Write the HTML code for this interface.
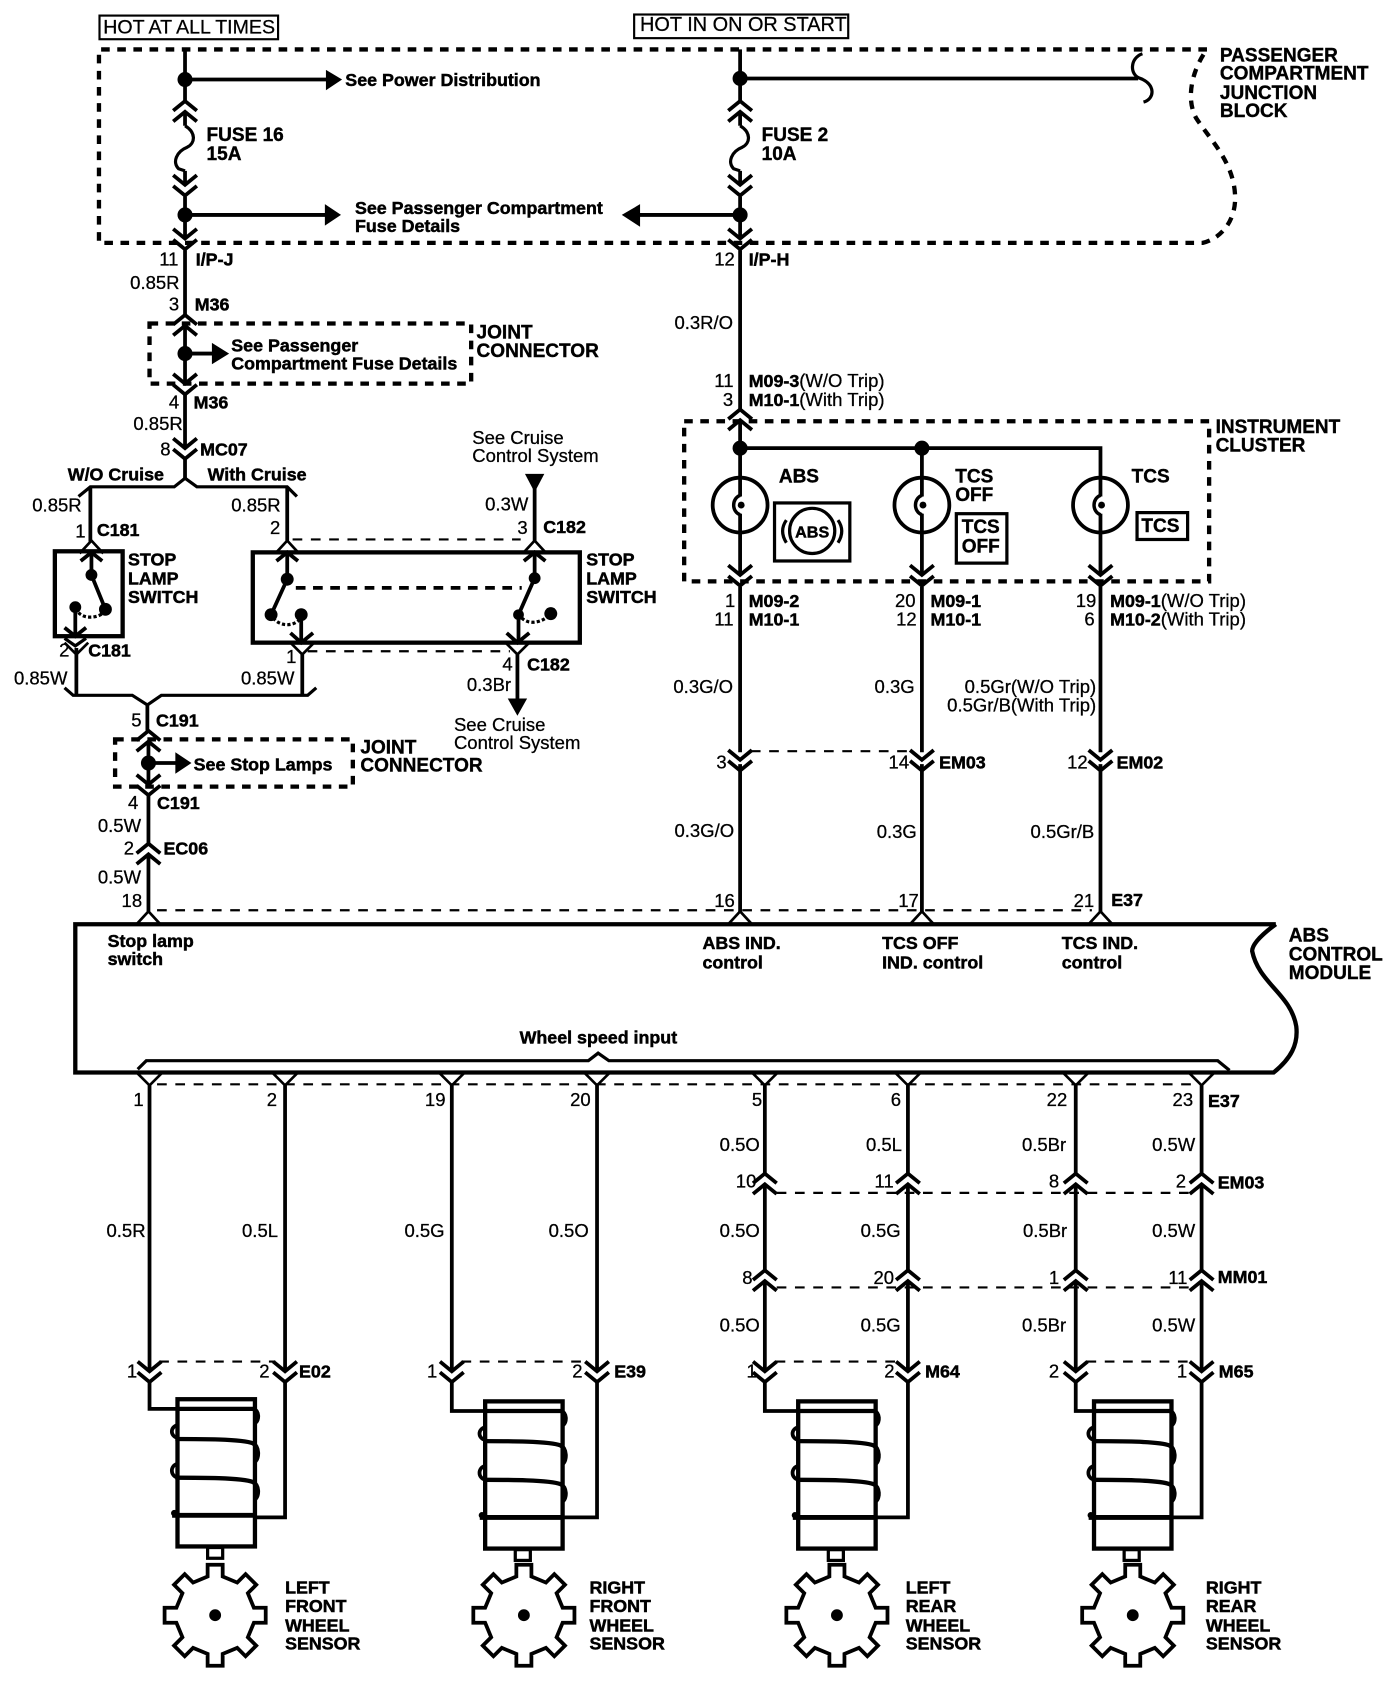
<!DOCTYPE html>
<html><head><meta charset="utf-8"><title>ABS wiring diagram</title>
<style>
html,body{margin:0;padding:0;background:#fff}
svg{display:block}
text{font-family:"Liberation Sans",sans-serif;fill:#000}
.t{font-size:17.2px;stroke:#000;stroke-width:.25px}
.b{font-size:16.6px;font-weight:bold;stroke:#000;stroke-width:.45px}
.h{font-size:17.7px;font-weight:bold;stroke:#000;stroke-width:.35px}
.w{fill:none;stroke:#000;stroke-width:3.5}
.n{fill:none;stroke:#000;stroke-width:3}
.d{fill:none;stroke:#000;stroke-width:4;stroke-dasharray:8 7}
.e{fill:none;stroke:#000;stroke-width:2;stroke-dasharray:9 8}
.r{fill:none;stroke:#000;stroke-width:4}
</style></head><body>
<svg width="1392" height="1684" viewBox="0 0 1294 1567" preserveAspectRatio="none" xmlns="http://www.w3.org/2000/svg">
<defs>
<path id="vv" d="M-11,-9L0,0L11,-9M-11,1L0,10L11,1" fill="none" stroke="#000" stroke-width="3.5"/>
<path id="uu" d="M-11,9L0,0L11,9M-11,19L0,10L11,19" fill="none" stroke="#000" stroke-width="3.5"/>
<path id="tri" d="M-11,12L0,0L11,12" fill="none" stroke="#000" stroke-width="2.5"/>
<path id="y" d="M-11,-11L0,0L11,-11" fill="none" stroke="#000" stroke-width="2.5"/>
<path id="fuse" d="M0,0C10,6 10,16 2,20C-8,24 -12,34 -6,40L0,42" fill="none" stroke="#000" stroke-width="3"/>
<g id="lamp" fill="none" stroke="#000">
<circle cx="0" cy="0" r="25.5" stroke-width="3.5"/>
<path d="M0,-8V8" stroke="#fff" stroke-width="5"/>
<path d="M0,-9C-8,-6 -8,6 0,9" stroke-width="3.2"/>
<circle cx="1" cy="0" r="3.2" fill="#000" stroke="none"/>
</g>
<g id="sensor" fill="none" stroke="#000">
<rect x="0" y="0" width="72" height="137" stroke-width="4"/>
<path d="M-1,9L70,9C76,10 76,20 72,22" stroke-width="4"/>
<path d="M0,36C-7,34 -7,26 0,24" stroke-width="3.5"/>
<path d="M-2,37C20,37 60,37 70,41C76,44 76,55 72,58" stroke-width="4"/>
<path d="M0,73C-7,71 -7,62 0,60" stroke-width="3.5"/>
<path d="M-2,73C20,73 60,73 70,77C76,80 76,90 72,93" stroke-width="4"/>
<path d="M-5,108L72,108" stroke-width="4.5"/>
<circle cx="-3" cy="106" r="3" fill="#000" stroke="none"/>
<rect x="28" y="138" width="14" height="10" stroke-width="3"/>
</g>
<g id="gear">
<polygon points="-7,-36 -7,-47 7,-47 7,-36 20.5,-30.4 28.3,-38.2 38.2,-28.3 30.4,-20.5 36,-7 47,-7 47,7 36,7 30.4,20.5 38.2,28.3 28.3,38.2 20.5,30.4 7,36 7,47 -7,47 -7,36 -20.5,30.4 -28.3,38.2 -38.2,28.3 -30.4,20.5 -36,7 -47,7 -47,-7 -36,-7 -30.4,-20.5 -38.2,-28.3 -28.3,-38.2 -20.5,-30.4" fill="#fff" stroke="#000" stroke-width="3.5"/>
<circle r="5.5" fill="#000"/>
</g>
</defs>

<!-- header boxes -->
<rect x="92.500" y="14.500" width="166" height="22" fill="none" stroke="#000" stroke-width="2"/>
<text x="96" y="31" style="font-size:18.200px" class="t">HOT AT ALL TIMES</text>
<rect x="589.500" y="13.500" width="199" height="22" fill="none" stroke="#000" stroke-width="2"/>
<text x="595" y="29" style="font-size:18.500px" class="t">HOT IN ON OR START</text>

<!-- junction block outline -->
<path class="d" d="M1122,46L92,46L92,226L1118,226C1135,222 1150,205 1148,180C1146,150 1125,130 1112,110C1102,92 1108,65 1122,46"/>
<text class="h" x="1134" y="57">PASSENGER</text>
<text class="h" x="1134" y="74">COMPARTMENT</text>
<text class="h" x="1134" y="92">JUNCTION</text>
<text class="h" x="1134" y="109">BLOCK</text>

<!-- left feed -->
<path class="w" d="M172,46V94M172,104V117M172,159V172M172,183V222M172,233V293M172,303V357M172,367V417M172,427V445"/>
<use href="#uu" x="172" y="94"/><use href="#fuse" x="172" y="117"/><use href="#vv" x="172" y="172"/>
<use href="#vv" x="172" y="222"/><use href="#uu" x="172" y="293"/><use href="#vv" x="172" y="357"/><use href="#vv" x="172" y="417"/>
<circle cx="172" cy="74" r="7"/><circle cx="172" cy="200" r="7"/><circle cx="172" cy="329" r="7"/>
<path class="w" d="M172,74H304M172,200H304M172,329H200"/>
<polygon points="303,65 318,74 303,84"/><polygon points="302,190 317,200 302,210"/><polygon points="197,319 213,329 197,339"/>
<text class="b" x="321" y="80">See Power Distribution</text>
<text class="h" x="192" y="131">FUSE 16</text><text class="h" x="192" y="149">15A</text>
<text class="b" x="330" y="199">See Passenger Compartment</text><text class="b" x="330" y="216">Fuse Details</text>
<text class="t" x="148" y="247">11</text><text class="b" x="182" y="247">I/P-J</text>
<text class="t" x="121" y="269">0.85R</text><text class="t" x="157" y="289">3</text><text class="b" x="181" y="289">M36</text>
<rect class="d" x="139" y="301" width="299" height="56"/>
<text class="b" x="215" y="327">See Passenger</text><text class="b" x="215" y="344">Compartment Fuse Details</text>
<text class="h" x="443" y="315">JOINT</text><text class="h" x="443" y="332">CONNECTOR</text>
<text class="t" x="157" y="380">4</text><text class="b" x="180" y="380">M36</text>
<text class="t" x="124" y="400">0.85R</text>
<text class="t" x="149" y="424">8</text><text class="b" x="186" y="424">MC07</text>
<text class="b" x="63" y="447">W/O Cruise</text><text class="b" x="193" y="447">With Cruise</text>
<path class="n" d="M172,445L162,453H84L73,462M172,445L183,453H267L276,462"/>
<path class="w" d="M84,453V504M267,453V503"/>
<text class="t" x="30" y="476">0.85R</text><text class="t" x="70" y="500">1</text><text class="b" x="90" y="499">C181</text>
<text class="t" x="215" y="476">0.85R</text><text class="t" x="251" y="497">2</text>
<path class="e" d="M272,502H484"/>

<text class="t" x="439" y="413">See Cruise</text><text class="t" x="439" y="430">Control System</text>
<polygon points="488,441 506,441 497,458"/>
<path class="w" d="M497,450V503"/>
<text class="t" x="451" y="475">0.3W</text><text class="t" x="481" y="497">3</text><text class="b" x="505" y="496">C182</text>

<!-- left stop switch -->
<rect class="r" x="51" y="513" width="63" height="79"/>
<use href="#tri" x="85" y="503"/>
<path class="w" d="M85,514V535L98,567M70,566V592"/>
<path class="w" d="M75,522L85,514L95,522"/>
<circle cx="85" cy="535" r="5.500"/><circle cx="98" cy="567" r="6"/><circle cx="70" cy="565" r="5.500"/>
<path d="M73,570C78,576 90,575 95,571" fill="none" stroke="#000" stroke-width="3" stroke-dasharray="3 2"/>
<path class="w" d="M60,584L70,592L80,584"/>
<path class="n" d="M60,594L70,601L80,594"/>
<text class="b" x="119" y="526">STOP</text><text class="b" x="119" y="544">LAMP</text><text class="b" x="119" y="561">SWITCH</text>

<!-- right stop switch -->
<rect class="r" x="235" y="514" width="304" height="84"/>
<use href="#tri" x="267" y="503"/><use href="#tri" x="497" y="503"/>
<path class="w" d="M267,514V539L252,572M280,572V597M497,514V538L482,572V597"/>
<path class="w" d="M257,522L267,514L277,522M487,522L497,514L507,522"/>
<circle cx="267" cy="539" r="6"/><circle cx="252" cy="572" r="6"/><circle cx="280" cy="572" r="6"/>
<circle cx="497" cy="538" r="5.500"/><circle cx="482" cy="572" r="5"/><circle cx="512" cy="571" r="6"/>
<path d="M254,575C260,583 272,583 278,577M485,575C491,581 501,580 509,574" fill="none" stroke="#000" stroke-width="3" stroke-dasharray="3 2"/>
<path d="M275,547H485" fill="none" stroke="#000" stroke-width="3.500" stroke-dasharray="9 7"/>
<path class="w" d="M270,589L280,598L291,589M471,589L481,598L492,589"/>
<text class="b" x="545" y="526">STOP</text><text class="b" x="545" y="544">LAMP</text><text class="b" x="545" y="561">SWITCH</text>

<!-- below switches -->
<use href="#y" x="71" y="609"/><use href="#y" x="281" y="609"/><use href="#y" x="481" y="609"/>
<path class="w" d="M71,603V647M281,609V647M481,609V652"/>
<path class="e" d="M286,606H474"/>
<text class="t" x="55" y="611">2</text><text class="b" x="82" y="611">C181</text>
<text class="t" x="13" y="637">0.85W</text><text class="t" x="266" y="617">1</text><text class="t" x="224" y="637">0.85W</text>
<text class="t" x="467" y="624">4</text><text class="b" x="490" y="624">C182</text>
<text class="t" x="434" y="643">0.3Br</text>
<polygon points="472,650 490,650 481,666"/>
<text class="t" x="422" y="680">See Cruise</text><text class="t" x="422" y="697">Control System</text>
<path class="n" d="M60,640L68,647H123L137,656L150,647H286L294,640"/>
<path class="w" d="M137,656V680M138,690V730M138,740V785M138,795V848"/>
<text class="t" x="122" y="676">5</text><text class="b" x="145" y="676">C191</text>
<use href="#uu" x="138" y="680"/><use href="#vv" x="138" y="730"/>
<rect class="d" x="107" y="688" width="221" height="44"/>
<circle cx="138" cy="710" r="7"/><path class="w" d="M138,710H165"/><polygon points="163,700 178,710 163,720"/>
<text class="b" x="180" y="717">See Stop Lamps</text>
<text class="h" x="335" y="701">JOINT</text><text class="h" x="335" y="718">CONNECTOR</text>
<text class="t" x="119" y="753">4</text><text class="b" x="146" y="753">C191</text>
<text class="t" x="91" y="774">0.5W</text>
<use href="#uu" x="138" y="785"/>
<text class="t" x="115" y="795">2</text><text class="b" x="152" y="795">EC06</text>
<text class="t" x="91" y="822">0.5W</text><text class="t" x="113" y="844">18</text>

<!-- right feed -->
<path class="w" d="M688,46V94M688,104V117M688,159V172M688,183V222M688,233V381M688,391V535M688,546V700M688,711V850"/>
<use href="#uu" x="688" y="94"/><use href="#fuse" x="688" y="117"/><use href="#vv" x="688" y="172"/><use href="#vv" x="688" y="222"/>
<circle cx="688" cy="73" r="7"/><circle cx="688" cy="200" r="7"/>
<path class="w" d="M688,73H1058"/>
<path class="n" d="M1062,50C1050,54 1050,70 1060,73C1074,78 1074,92 1063,95"/>
<path class="w" d="M688,200H594"/><polygon points="595,190 578,200 595,211"/>
<text class="h" x="708" y="131">FUSE 2</text><text class="h" x="708" y="149">10A</text>
<text class="t" x="664" y="247">12</text><text class="b" x="696" y="247">I/P-H</text>
<text class="t" x="627" y="306">0.3R/O</text>
<text class="t" x="664" y="360">11</text><text x="696" y="360" class="t"><tspan class="b">M09-3</tspan>(W/O Trip)</text>
<text class="t" x="672" y="378">3</text><text x="696" y="378" class="t"><tspan class="b">M10-1</tspan>(With Trip)</text>
<use href="#uu" x="688" y="381"/>

<!-- instrument cluster -->
<rect class="d" x="636" y="392" width="488" height="149"/>
<text class="h" x="1130" y="403">INSTRUMENT</text><text class="h" x="1130" y="420">CLUSTER</text>
<path class="w" d="M688,417H1023V535M857,417V535"/>
<circle cx="688" cy="417" r="7"/><circle cx="857" cy="417" r="7"/>
<use href="#lamp" x="688" y="470"/><use href="#lamp" x="857" y="470"/><use href="#lamp" x="1023" y="470"/>
<text class="h" x="724" y="449">ABS</text><text class="h" x="888" y="449">TCS</text><text class="h" x="888" y="466">OFF</text><text class="h" x="1052" y="449">TCS</text>
<rect x="720" y="468" width="70" height="54" fill="none" stroke="#000" stroke-width="3"/>
<circle cx="755" cy="494" r="21" fill="none" stroke="#000" stroke-width="3"/>
<path d="M731,484Q724,494 731,505M779,484Q786,494 779,505" fill="none" stroke="#000" stroke-width="3"/>
<text x="755" y="500" text-anchor="middle" class="b" style="font-size:15px">ABS</text>
<rect x="889" y="478" width="47" height="46" fill="none" stroke="#000" stroke-width="3"/>
<text x="894" y="496" class="h">TCS</text><text x="894" y="514" class="h">OFF</text>
<rect x="1057" y="477" width="47" height="25" fill="none" stroke="#000" stroke-width="3"/>
<text x="1061" y="495" class="h">TCS</text>

<use href="#vv" x="688" y="535"/><use href="#vv" x="857" y="535"/><use href="#vv" x="1023" y="535"/>
<path class="w" d="M857,546V700M857,711V850M1023,546V700M1023,711V850"/>
<text class="t" x="674" y="565">1</text><text class="b" x="696" y="565">M09-2</text>
<text class="t" x="664" y="582">11</text><text class="b" x="696" y="582">M10-1</text>
<text class="t" x="832" y="565">20</text><text class="b" x="865" y="565">M09-1</text>
<text class="t" x="833" y="582">12</text><text class="b" x="865" y="582">M10-1</text>
<text class="t" x="1000" y="565">19</text><text x="1032" y="565" class="t"><tspan class="b">M09-1</tspan>(W/O Trip)</text>
<text class="t" x="1008" y="582">6</text><text x="1032" y="582" class="t"><tspan class="b">M10-2</tspan>(With Trip)</text>
<text class="t" x="626" y="645">0.3G/O</text><text class="t" x="813" y="645">0.3G</text>
<text class="t" x="1019" y="645" text-anchor="end">0.5Gr(W/O Trip)</text><text class="t" x="1019" y="662" text-anchor="end">0.5Gr/B(With Trip)</text>
<use href="#vv" x="688" y="707"/><use href="#vv" x="857" y="707"/><use href="#vv" x="1023" y="707"/>
<path class="e" d="M698,699H846"/>
<text class="t" x="666" y="715">3</text><text class="t" x="826" y="715">14</text><text class="b" x="873" y="715">EM03</text>
<text class="t" x="992" y="715">12</text><text class="b" x="1038" y="715">EM02</text>
<text class="t" x="627" y="779">0.3G/O</text><text class="t" x="815" y="780">0.3G</text><text class="t" x="958" y="780">0.5Gr/B</text>
<text class="t" x="664" y="844">16</text><text class="t" x="835" y="844">17</text><text class="t" x="998" y="844">21</text><text class="b" x="1033" y="843">E37</text>
<path class="e" d="M146,847H1015"/>
<use href="#tri" x="138" y="848"/><use href="#tri" x="688" y="848"/><use href="#tri" x="857" y="848"/><use href="#tri" x="1023" y="848"/>

<!-- ABS module -->
<path d="M1186,860H70V998H1184C1200,985 1207,972 1205,955C1200,925 1170,915 1164,885C1164,878 1175,868 1186,860" fill="none" stroke="#000" stroke-width="4"/>
<text class="b" x="100" y="881">Stop lamp</text><text class="b" x="100" y="898">switch</text>
<text class="b" x="653" y="883">ABS IND.</text><text class="b" x="653" y="901">control</text>
<text class="b" x="820" y="883">TCS OFF</text><text class="b" x="820" y="901">IND. control</text>
<text class="b" x="987" y="883">TCS IND.</text><text class="b" x="987" y="901">control</text>
<text class="h" x="1198" y="876">ABS</text><text class="h" x="1198" y="894">CONTROL</text><text class="h" x="1198" y="911">MODULE</text>
<text class="b" x="483" y="971">Wheel speed input</text>
<path class="n" d="M128,995L136,987H547L556,980L566,987H1132L1143,996"/>

<!-- bottom connectors -->
<use href="#y" x="139" y="1010"/><use href="#y" x="265" y="1010"/><use href="#y" x="420" y="1010"/><use href="#y" x="555" y="1010"/>
<use href="#y" x="711" y="1010"/><use href="#y" x="844" y="1010"/><use href="#y" x="1000" y="1010"/><use href="#y" x="1117" y="1010"/>
<path class="e" d="M146,1009H1110"/>
<text class="t" x="124" y="1029">1</text><text class="t" x="248" y="1029">2</text><text class="t" x="395" y="1029">19</text><text class="t" x="530" y="1029">20</text>
<text class="t" x="699" y="1029">5</text><text class="t" x="828" y="1029">6</text><text class="t" x="973" y="1029">22</text><text class="t" x="1090" y="1029">23</text><text class="b" x="1123" y="1030">E37</text>

<path class="w" d="M139,1010V1276M265,1010V1276M420,1010V1276M555,1010V1276"/>
<path class="w" d="M711,1010V1092M711,1102V1182M711,1192V1276M844,1010V1092M844,1102V1182M844,1192V1276M1000,1010V1092M1000,1102V1182M1000,1192V1276M1117,1010V1092M1117,1102V1182M1117,1192V1276"/>
<use href="#uu" x="711" y="1092"/><use href="#uu" x="844" y="1092"/><use href="#uu" x="1000" y="1092"/><use href="#uu" x="1117" y="1092"/>
<use href="#uu" x="711" y="1182"/><use href="#uu" x="844" y="1182"/><use href="#uu" x="1000" y="1182"/><use href="#uu" x="1117" y="1182"/>
<path class="e" d="M722,1110H1106M722,1198H1106"/>

<text class="t" x="99" y="1151">0.5R</text><text class="t" x="225" y="1151">0.5L</text><text class="t" x="376" y="1151">0.5G</text><text class="t" x="510" y="1151">0.5O</text>
<text class="t" x="669" y="1071">0.5O</text><text class="t" x="805" y="1071">0.5L</text><text class="t" x="950" y="1071">0.5Br</text><text class="t" x="1071" y="1071">0.5W</text>
<text class="t" x="684" y="1105">10</text><text class="t" x="813" y="1105">11</text><text class="t" x="975" y="1105">8</text><text class="t" x="1093" y="1105">2</text><text class="b" x="1132" y="1106">EM03</text>
<text class="t" x="669" y="1151">0.5O</text><text class="t" x="800" y="1151">0.5G</text><text class="t" x="951" y="1151">0.5Br</text><text class="t" x="1071" y="1151">0.5W</text>
<text class="t" x="690" y="1195">8</text><text class="t" x="812" y="1195">20</text><text class="t" x="975" y="1195">1</text><text class="t" x="1086" y="1195">11</text><text class="b" x="1132" y="1194">MM01</text>
<text class="t" x="669" y="1239">0.5O</text><text class="t" x="800" y="1239">0.5G</text><text class="t" x="950" y="1239">0.5Br</text><text class="t" x="1071" y="1239">0.5W</text>

<!-- sensor connectors -->
<use href="#vv" x="139" y="1276"/><use href="#vv" x="265" y="1276"/><use href="#vv" x="420" y="1276"/><use href="#vv" x="555" y="1276"/>
<use href="#vv" x="711" y="1276"/><use href="#vv" x="844" y="1276"/><use href="#vv" x="1000" y="1276"/><use href="#vv" x="1117" y="1276"/>
<path class="e" d="M148,1267H256M429,1267H546M721,1267H834M1010,1267H1107"/>
<text class="t" x="118" y="1282">1</text><text class="t" x="241" y="1282">2</text><text class="b" x="278" y="1282">E02</text>
<text class="t" x="397" y="1282">1</text><text class="t" x="532" y="1282">2</text><text class="b" x="571" y="1282">E39</text>
<text class="t" x="694" y="1282">1</text><text class="t" x="822" y="1282">2</text><text class="b" x="860" y="1282">M64</text>
<text class="t" x="975" y="1282">2</text><text class="t" x="1094" y="1282">1</text><text class="b" x="1133" y="1282">M65</text>

<!-- sensors -->
<path class="w" d="M139,1286V1311H165M265,1286V1412H236"/>
<path class="w" d="M420,1286V1313H451M555,1286V1412H522"/>
<path class="w" d="M711,1286V1313H742M844,1286V1412H812"/>
<path class="w" d="M1000,1286V1313H1017M1117,1286V1412H1088"/>
<use href="#sensor" x="165" y="1302"/><use href="#sensor" x="451" y="1304"/><use href="#sensor" x="742" y="1304"/><use href="#sensor" x="1017" y="1304"/>
<use href="#gear" x="200" y="1503"/><use href="#gear" x="487" y="1503"/><use href="#gear" x="778" y="1503"/><use href="#gear" x="1053" y="1503"/>
<text class="b" x="265" y="1483">LEFT</text><text class="b" x="265" y="1500">FRONT</text><text class="b" x="265" y="1518">WHEEL</text><text class="b" x="265" y="1535">SENSOR</text>
<text class="b" x="548" y="1483">RIGHT</text><text class="b" x="548" y="1500">FRONT</text><text class="b" x="548" y="1518">WHEEL</text><text class="b" x="548" y="1535">SENSOR</text>
<text class="b" x="842" y="1483">LEFT</text><text class="b" x="842" y="1500">REAR</text><text class="b" x="842" y="1518">WHEEL</text><text class="b" x="842" y="1535">SENSOR</text>
<text class="b" x="1121" y="1483">RIGHT</text><text class="b" x="1121" y="1500">REAR</text><text class="b" x="1121" y="1518">WHEEL</text><text class="b" x="1121" y="1535">SENSOR</text>
</svg>
</body></html>
